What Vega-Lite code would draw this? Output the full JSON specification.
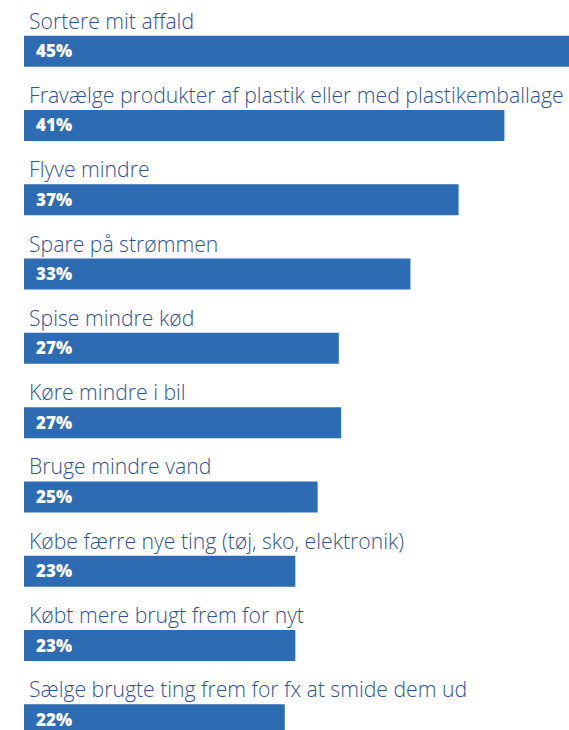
{
  "$schema": "https://vega.github.io/schema/vega-lite/v6.json",
  "autosize": {"type": "none"},
  "padding": {"left": 24, "top": 14, "right": 0, "bottom": 0},
  "width": 545,
  "height": 743,
  "background": "white",
  "config": {"view": {"stroke": null}},
  "data": {"values": [
    {"item": "Sortere mit affald", "value": 46.4, "label": "45%"},
    {"item": "Fravælge produkter af plastik eller med plastikemballage", "value": 40.9, "label": "41%"},
    {"item": "Flyve mindre", "value": 37.0, "label": "37%"},
    {"item": "Spare på strømmen", "value": 32.9, "label": "33%"},
    {"item": "Spise mindre kød", "value": 26.8, "label": "27%"},
    {"item": "Køre mindre i bil", "value": 27.0, "label": "27%"},
    {"item": "Bruge mindre vand", "value": 25.0, "label": "25%"},
    {"item": "Købe færre nye ting (tøj, sko, elektronik)", "value": 23.1, "label": "23%"},
    {"item": "Købt mere brugt frem for nyt", "value": 23.1, "label": "23%"},
    {"item": "Sælge brugte ting frem for fx at smide dem ud", "value": 22.2, "label": "22%"}
  ]},
  "encoding": {
    "y": {"field": "item", "type": "nominal", "sort": null, "axis": null,
          "scale": {"paddingInner": 0, "paddingOuter": 0}}
  },
  "layer": [
    {
      "mark": {"type": "bar", "height": 31, "color": "#2d6cb3"},
      "encoding": {
        "x": {"field": "value", "type": "quantitative", "axis": null,
              "scale": {"domain": [0, 46.4], "nice": false, "zero": true}}
      }
    },
    {
      "mark": {"type": "text", "align": "left", "baseline": "alphabetic", "dx": 5, "dy": -22.5,
               "font": "Open Sans", "fontSize": 21.2, "fontWeight": 300, "color": "#2f5296"},
      "encoding": {
        "x": {"datum": 0, "type": "quantitative"},
        "text": {"field": "item"}
      }
    },
    {
      "mark": {"type": "text", "align": "left", "baseline": "middle", "dx": 12, "dy": 1,
               "font": "Open Sans", "fontSize": 17, "fontWeight": 800, "color": "white"},
      "encoding": {
        "x": {"datum": 0, "type": "quantitative"},
        "text": {"field": "label"}
      }
    }
  ]
}
